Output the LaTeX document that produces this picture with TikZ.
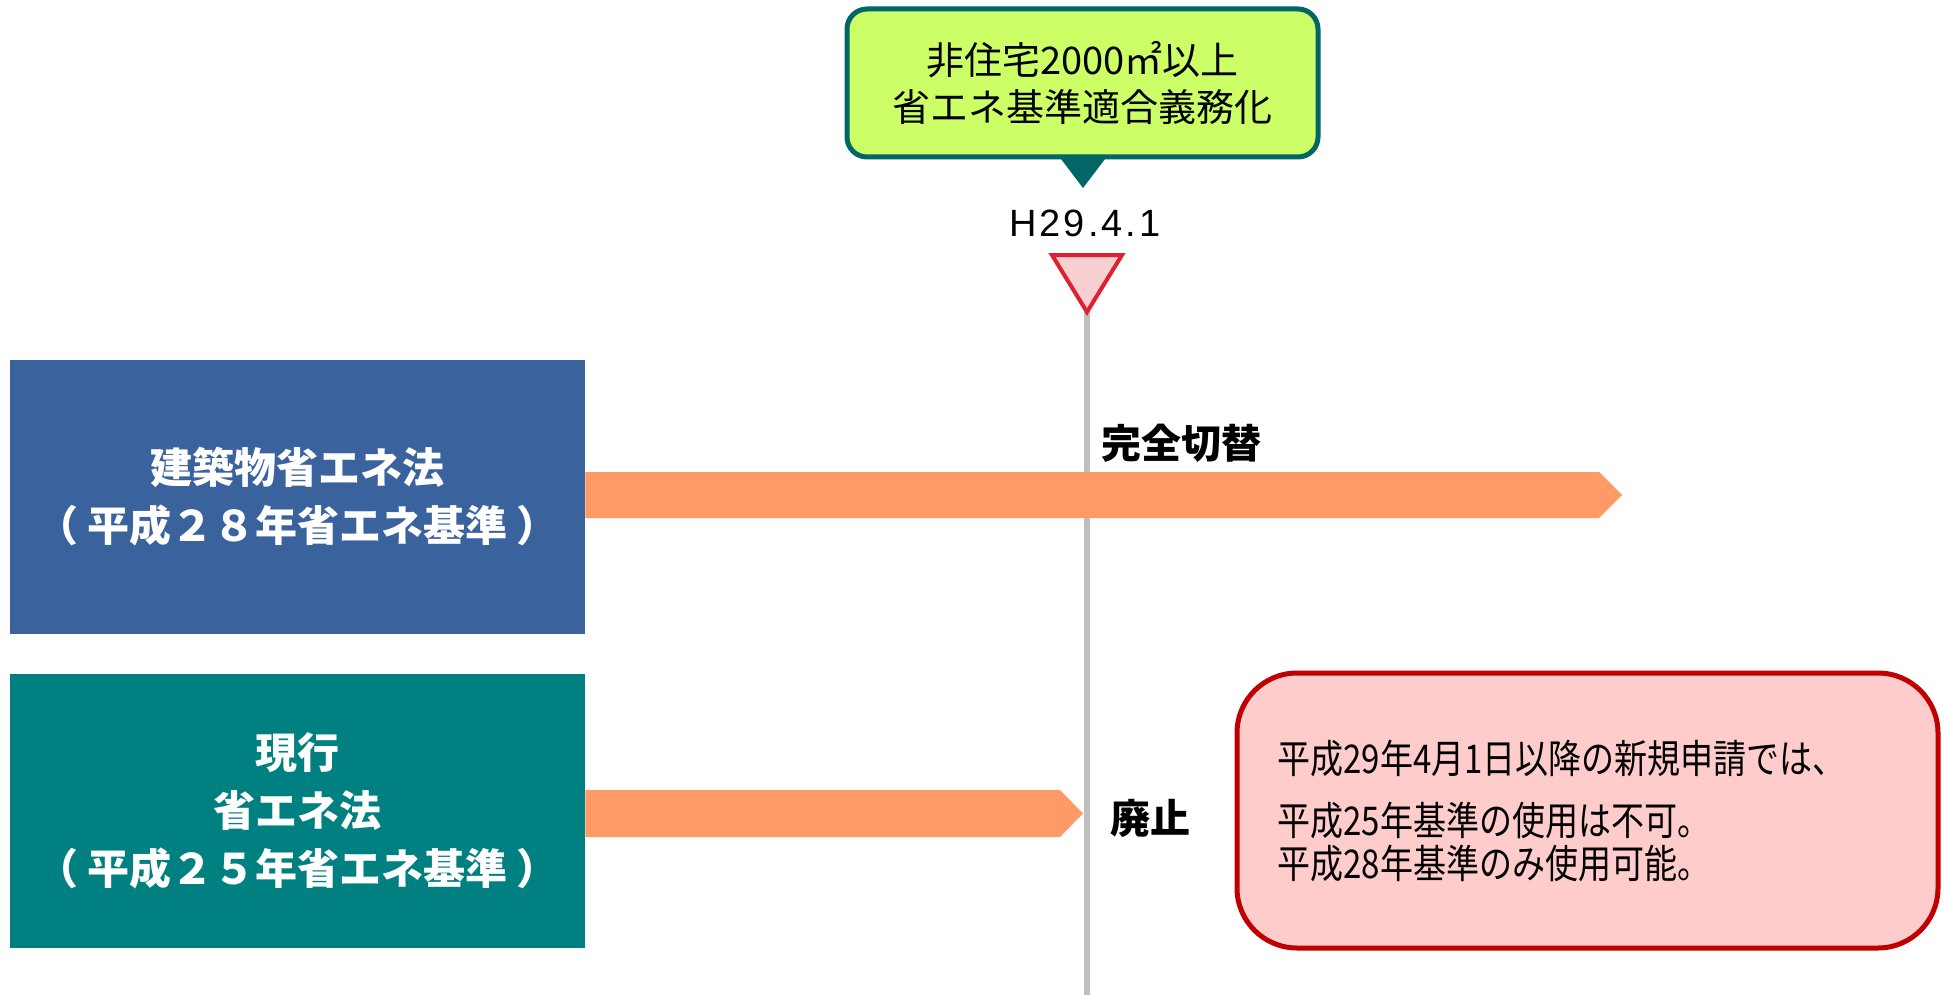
\documentclass[tikz,border=0pt]{standalone}
\usepackage{fontspec}
\usepackage{graphicx}
\setmainfont{Noto Sans CJK JP}
\newfontfamily\latinfont[LetterSpace=8]{Liberation Sans}
\definecolor{lawblue}{RGB}{58,99,158}
\definecolor{lawteal}{RGB}{0,128,128}
\definecolor{barorange}{RGB}{255,153,102}
\definecolor{calloutfill}{RGB}{204,255,102}
\definecolor{calloutline}{RGB}{0,102,102}
\definecolor{markred}{RGB}{224,32,48}
\definecolor{markpink}{RGB}{248,208,210}
\definecolor{notefill}{RGB}{255,204,204}
\definecolor{noteline}{RGB}{192,0,0}
\definecolor{linegray}{RGB}{191,191,191}
\newcommand{\pgap}{\hspace{0.22em}}
\tikzset{
  lawbox/.style={rectangle, minimum width=287.5pt, minimum height=137pt, inner sep=0pt,
    text=white, align=center, font=\bfseries\fontsize{21}{29}\selectfont},
  bartext/.style={anchor=west, inner sep=0pt, font=\bfseries\fontsize{20}{24}\selectfont},
  notetext/.style={anchor=west, inner sep=0pt, align=left, font=\fontsize{16.5}{21}\selectfont},
  bar/.style={fill=barorange}
}
\begin{document}
\begin{tikzpicture}[x=0.5pt,y=-0.5pt]
\useasboundingbox[fill=white] (0,0) rectangle (1944,995);
% timeline
\coordinate (markapex) at (1087,312);
\coordinate (lineend) at (1087,995);
\draw[linegray, line width=3pt] (markapex) -- (lineend);
\draw[draw=markred, fill=markpink, line width=2pt, line join=miter] (1052,255) -- (1122,255) -- (markapex) -- cycle;
\node[font=\latinfont\fontsize{19}{22}\selectfont, inner sep=0pt] (date) at (1085,223) {H29.4.1};
% callout
\node[draw=calloutline, fill=calloutfill, line width=2.5pt, rounded corners=10pt,
  minimum width=235.5pt, minimum height=74pt, inner sep=0pt, align=center,
  font=\fontsize{19}{23.5}\selectfont] (callout) at (1082.5,83) {非住宅2000㎡以上\\省エネ基準適合義務化};
\fill[calloutline] (1058,155) -- (1108,155) -- (1083,188) -- cycle;
% boxes
\node[lawbox, fill=lawblue] (newlaw) at (297.5,497) {建築物省エネ法\\（\pgap 平成２８年省エネ基準\pgap ）};
\node[lawbox, fill=lawteal] (oldlaw) at (297.5,811) {現行\\省エネ法\\（\pgap 平成２５年省エネ基準\pgap ）};
% bars
\fill[bar] (newlaw.east |- 0,472) -- (1599,472) -- (1622,495) -- (1599,518) -- (newlaw.east |- 0,518) -- cycle;
\fill[bar] (oldlaw.east |- 0,790) -- (1060,790) -- (1083,813.5) -- (1060,837) -- (oldlaw.east |- 0,837) -- cycle;
\node[bartext] (switch) at (1101,443) {完全切替};
\node[bartext] (abolish) at (1110,818) {廃止};
% note
\node[draw=noteline, fill=notefill, line width=2.5pt, rounded corners=30pt,
  minimum width=350.5pt, minimum height=137.5pt, inner sep=0pt] (note) at (1587.5,810.5) {};
\node[notetext] (note1) at (1277,759) {\scalebox{1}[1.2]{平成29年4月1日以降の新規申請では、}};
\node[notetext] (note2) at (1277,820) {\scalebox{1}[1.2]{平成25年基準の使用は不可。}};
\node[notetext] (note3) at (1277,863) {\scalebox{1}[1.2]{平成28年基準のみ使用可能。}};
\end{tikzpicture}
\end{document}
